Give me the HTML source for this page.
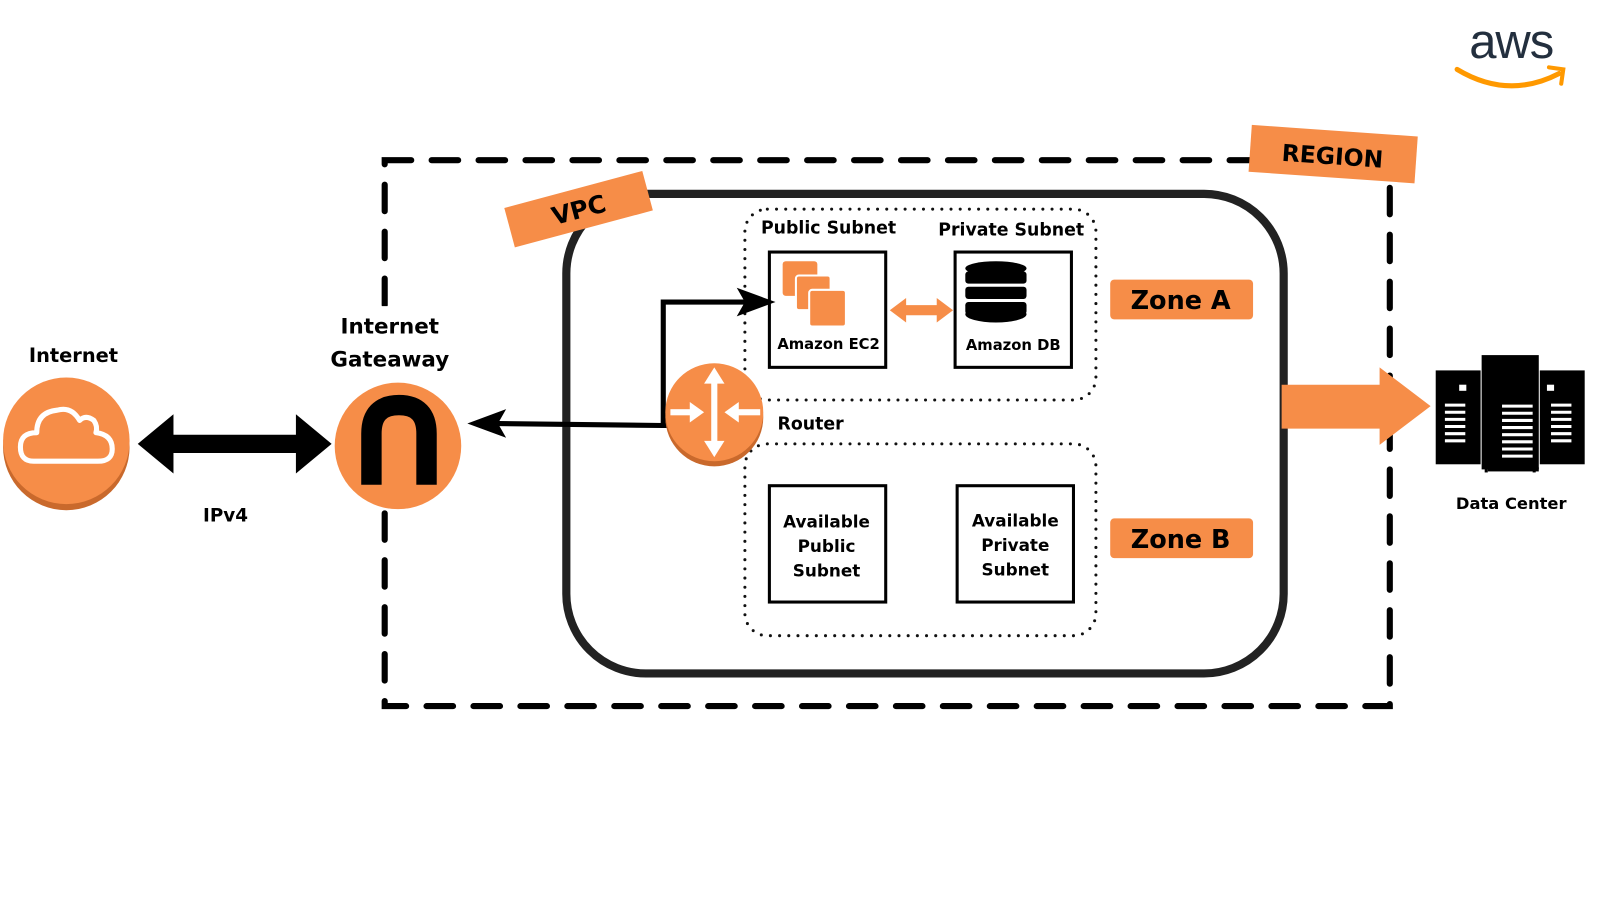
<!DOCTYPE html>
<html><head><meta charset="utf-8"><style>
html,body{margin:0;padding:0;background:#fff;}
svg{display:block;}
text{font-family:"DejaVu Sans","Liberation Sans",sans-serif;font-weight:bold;fill:#000;}
</style></head><body>
<svg width="1600" height="900" viewBox="0 0 1568 882" xmlns="http://www.w3.org/2000/svg">
<rect width="1568" height="882" fill="#fff"/>
<!-- Region dashed -->
<rect x="377" y="157" width="985" height="535" fill="none" stroke="#000" stroke-width="6" stroke-dasharray="26 20" stroke-linecap="round"/>
<rect x="360" y="300" width="40" height="200" fill="#fff"/>
<!-- VPC -->
<rect x="555" y="190" width="703" height="470" rx="78" fill="none" stroke="#222" stroke-width="8"/>
<!-- Zone dotted boxes -->
<rect x="730" y="205" width="344" height="187" rx="22" fill="none" stroke="#111" stroke-width="3" stroke-dasharray="0 9" stroke-linecap="round"/>
<rect x="730" y="435" width="344" height="188" rx="22" fill="none" stroke="#111" stroke-width="3" stroke-dasharray="0 9" stroke-linecap="round"/>
<!-- labels orange -->
<g transform="rotate(-15 567 205)"><rect x="497" y="185" width="140" height="40" fill="#f68d48"/><text x="567" y="214" font-size="24" text-anchor="middle">VPC</text></g>
<g transform="rotate(4 1306 151)"><rect x="1225" y="128" width="163" height="46" fill="#f68d48"/><text x="1306" y="161" font-size="23" text-anchor="middle">REGION</text></g>
<rect x="1088" y="274" width="140" height="39" rx="4" fill="#f68d48"/><text x="1157" y="303" font-size="25" text-anchor="middle">Zone A</text>
<rect x="1088" y="508" width="140" height="39" rx="4" fill="#f68d48"/><text x="1157" y="537" font-size="25" text-anchor="middle">Zone B</text>
<!-- subnet labels -->
<text x="812" y="229" font-size="17" text-anchor="middle">Public Subnet</text>
<text x="991" y="231" font-size="17" text-anchor="middle">Private Subnet</text>
<!-- EC2 box -->
<rect x="754" y="247" width="114" height="113" fill="#fff" stroke="#000" stroke-width="3"/>
<rect x="767" y="256" width="34" height="34" rx="3" fill="#f68d48"/>
<rect x="780" y="270" width="34" height="34" rx="3" fill="#f68d48" stroke="#fff" stroke-width="2"/>
<rect x="793" y="284" width="36" height="36" rx="3" fill="#f68d48" stroke="#fff" stroke-width="2"/>
<text x="812" y="342" font-size="14.5" text-anchor="middle">Amazon EC2</text>
<!-- DB box -->
<rect x="936" y="247" width="114" height="113" fill="#fff" stroke="#000" stroke-width="3"/>
<g fill="#000">
<ellipse cx="976" cy="263" rx="30" ry="7"/>
<rect x="946" y="266" width="60" height="12" rx="3"/>
<rect x="946" y="281" width="60" height="12" rx="3"/>
<rect x="946" y="296" width="60" height="12" rx="3"/>
<ellipse cx="976" cy="308" rx="30" ry="8"/>
</g>
<text x="993" y="343" font-size="14.5" text-anchor="middle">Amazon DB</text>
<!-- orange double arrow -->
<polygon points="872,304 888,292 888,299 918,299 918,292 934,304 918,316 918,309 888,309 888,316" fill="#f68d48"/>
<!-- Zone B boxes -->
<rect x="754" y="476" width="114" height="114" fill="none" stroke="#000" stroke-width="3"/>
<text font-size="16.5" text-anchor="middle"><tspan x="810" y="517">Available</tspan><tspan x="810" y="541">Public</tspan><tspan x="810" y="565">Subnet</tspan></text>
<rect x="938" y="476" width="114" height="114" fill="none" stroke="#000" stroke-width="3"/>
<text font-size="16.5" text-anchor="middle"><tspan x="995" y="516">Available</tspan><tspan x="995" y="540">Private</tspan><tspan x="995" y="564">Subnet</tspan></text>
<!-- connectors -->
<polyline points="660,417 650,417 650,296 735,296" fill="none" stroke="#000" stroke-width="5"/>
<polygon points="722,282 760,296 722,310 730,296" fill="#000"/>
<line x1="650" y1="417" x2="480" y2="415" stroke="#000" stroke-width="5"/>
<polygon points="458,415 496,401 488,415 496,429" fill="#000"/>
<!-- Router -->
<circle cx="700" cy="409" r="48" fill="#c9692c"/>
<circle cx="700" cy="404" r="48" fill="#f68d48"/>
<g fill="#fff">
<rect x="697" y="372" width="6" height="64"/>
<polygon points="700,360 690,376 710,376"/><polygon points="700,448 690,432 710,432"/>
<rect x="657" y="401" width="20" height="6"/><polygon points="690,404 676,394 676,414"/>
<rect x="723" y="401" width="22" height="6"/><polygon points="710,404 724,394 724,414"/>
</g>
<text x="762" y="421" font-size="17">Router</text>
<!-- Internet -->
<circle cx="65" cy="438" r="62" fill="#c9692c"/>
<circle cx="65" cy="432" r="62" fill="#f68d48"/>
<path d="M33 452 Q20 452 20 438 Q20 424 36 424 Q36 404 56 402 Q70 398 78 412 Q84 406 92 412 Q96 418 94 424 Q110 426 110 440 Q110 452 96 452 Z" fill="none" stroke="#fff" stroke-width="5" stroke-linejoin="round"/>
<text x="72" y="355" font-size="19" text-anchor="middle">Internet</text>
<!-- double arrow -->
<polygon points="135,435 170,406 170,426 290,426 290,406 325,435 290,464 290,444 170,444 170,464" fill="#000"/>
<text x="221" y="511" font-size="18" text-anchor="middle">IPv4</text>
<!-- IGW -->
<circle cx="390" cy="437" r="62" fill="#f68d48"/>
<path d="M364 475 L364 425 Q364 397 391 397 Q418 397 418 425 L418 475" fill="none" stroke="#000" stroke-width="20"/>
<text x="382" y="327" font-size="21" text-anchor="middle">Internet</text>
<text x="382" y="359" font-size="21" text-anchor="middle">Gateaway</text>
<!-- big orange arrow -->
<polygon points="1256,377 1352,377 1352,360 1402,398 1352,436 1352,420 1256,420" fill="#f68d48"/>
<!-- data center -->
<g fill="#000">
<rect x="1407" y="363" width="44" height="92"/>
<rect x="1452" y="348" width="56" height="112"/>
<rect x="1509" y="363" width="44" height="92"/>
<rect x="1455" y="455" width="3" height="8"/><rect x="1502" y="455" width="3" height="8"/>
<rect x="1458" y="458" width="50" height="4"/>
</g>
<g fill="#fff">
<rect x="1519" y="356" width="8" height="6"/>
<rect x="1516" y="377" width="7" height="6"/>
<rect x="1430" y="377" width="7" height="6"/>
</g>
<g stroke="#fff" stroke-width="3">
<path d="M1416 397h20M1416 404h20M1416 411h20M1416 418h20M1416 425h20M1416 432h20"/>
<path d="M1472 398h30M1472 405h30M1472 412h30M1472 419h30M1472 426h30M1472 433h30M1472 440h30M1472 447h30"/>
<path d="M1520 397h20M1520 404h20M1520 411h20M1520 418h20M1520 425h20M1520 432h20"/>
</g>
<text x="1481" y="499" font-size="16" text-anchor="middle">Data Center</text>
<!-- aws logo -->
<text x="1481" y="57" font-size="48" text-anchor="middle" style="font-family:'Liberation Sans',sans-serif;font-weight:normal;fill:#232f3e;letter-spacing:-1px">aws</text>
<path d="M1428 68 Q1478 98 1528 72" fill="none" stroke="#f90" stroke-width="5" stroke-linecap="round"/>
<path d="M1518 66 L1532 68 L1530 82" fill="none" stroke="#f90" stroke-width="4" stroke-linecap="round"/>
</svg>
</body></html>
